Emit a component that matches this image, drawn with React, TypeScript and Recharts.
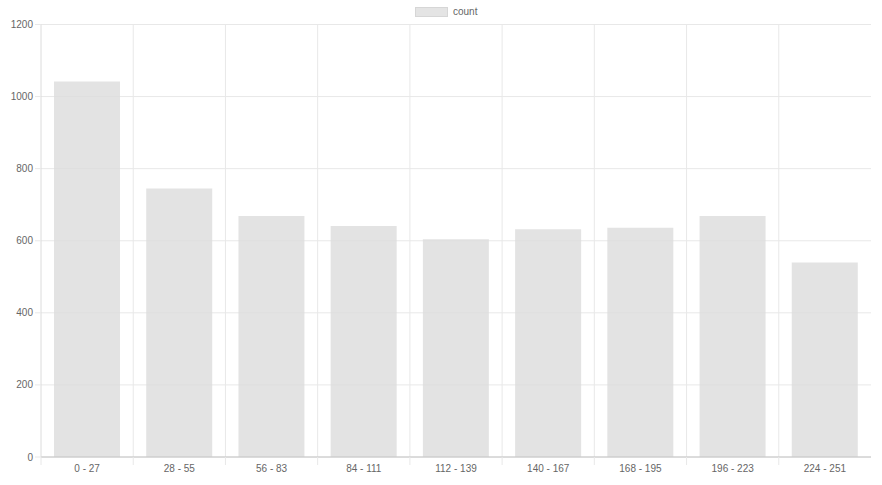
import React from 'react';
import { BarChart, Bar, XAxis, YAxis, CartesianGrid } from 'recharts';

const categories = ['0 - 27', '28 - 55', '56 - 83', '84 - 111', '112 - 139', '140 - 167', '168 - 195', '196 - 223', '224 - 251'];
const counts = [1042, 745, 669, 641, 604, 632, 636, 669, 540];
const yTicks = [0, 200, 400, 600, 800, 1000, 1200];

const data = categories.map((name, i) => ({ name, count: counts[i] }));

const FONT = '"Liberation Sans", Arial, Helvetica, sans-serif';
const GRID = '#e8e8e8';

const XTick = (props: any) => {
  const { x, y, payload } = props;
  const half = payload && payload.offset ? payload.offset : 46;
  return (
    <g>
      <line x1={x - half} x2={x - half} y1={y} y2={y + 8} stroke={GRID} />
      <text x={x} y={y + 14.5} textAnchor="middle" fill="#666" fontSize={10} fontFamily={FONT}>
        {payload.value}
      </text>
    </g>
  );
};

export default function App() {
  return (
    <div style={{ position: 'absolute', left: 0, top: 0, width: 882, height: 485, background: '#fff', fontFamily: FONT }}>
      <div style={{ position: 'absolute', top: 6, left: 415, display: 'flex', alignItems: 'center', fontSize: 10, color: '#666' }}>
        <span style={{ display: 'inline-block', width: 31, height: 8, background: '#e4e4e4', border: '1px solid #d6d6d6', marginRight: 5 }} />
        <span>count</span>
      </div>
      <BarChart width={882} height={485} data={data} margin={{ top: 24.5, right: 11, bottom: 0, left: 0 }}>
        <CartesianGrid
          stroke={GRID}
          verticalCoordinatesGenerator={({ offset }: any) =>
            categories.slice(1).map((_, i) => offset.left + ((i + 1) * offset.width) / categories.length)
          }
        />
        <XAxis
          dataKey="name"
          height={28}
          tick={<XTick />}
          tickSize={0}
          tickMargin={0}
          tickLine={false}
          axisLine={{ stroke: '#c4c4c4' }}
          interval={0}
        />
        <YAxis
          width={41}
          domain={[0, 1200]}
          ticks={yTicks}
          interval={0}
          tick={{ fill: '#666', fontSize: 10, fontFamily: FONT }}
          tickSize={6}
          tickMargin={2}
          tickLine={{ stroke: GRID }}
          axisLine={{ stroke: '#dcdcdc' }}
        />
        <Bar dataKey="count" barSize={66} fill="rgba(220,220,220,0.8)" isAnimationActive={false} />
      </BarChart>
    </div>
  );
}
